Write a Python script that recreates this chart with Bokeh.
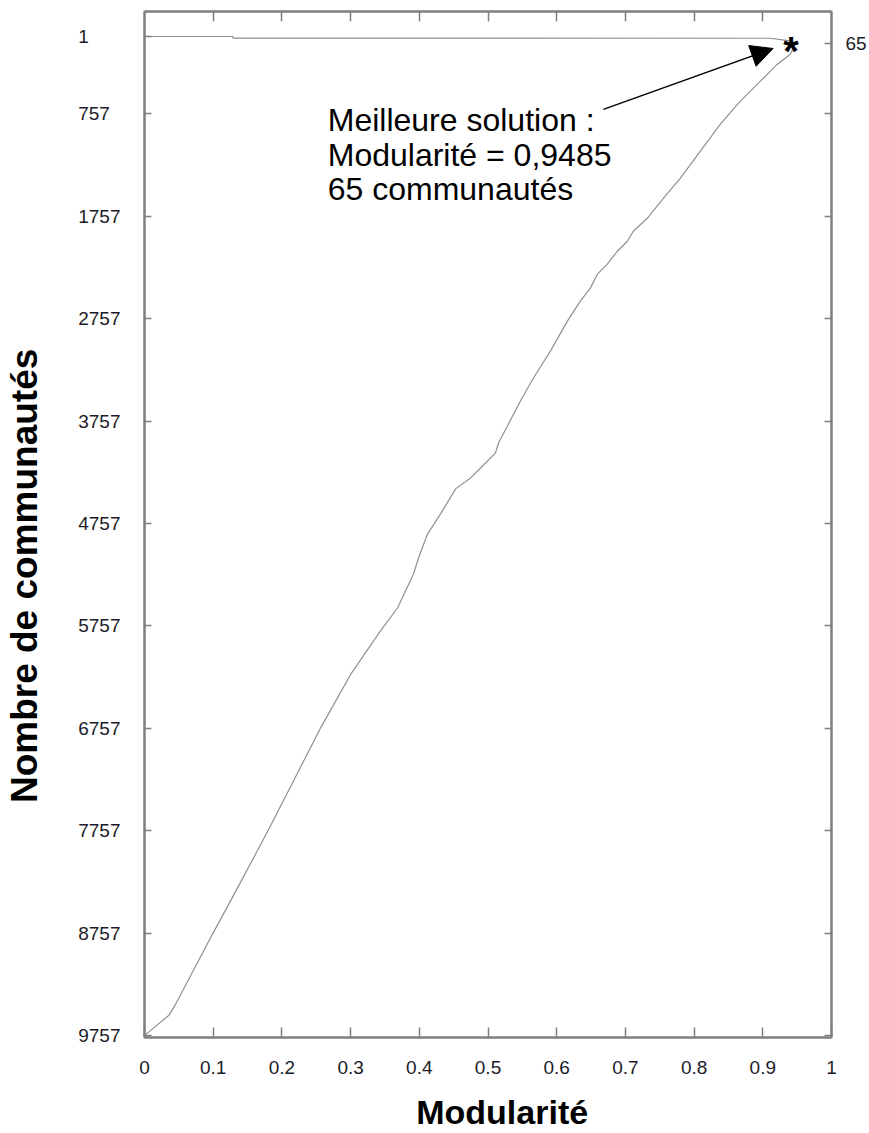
from bokeh.plotting import figure
from bokeh.models import (Range1d, LinearAxis, FixedTicker, NumeralTickFormatter,
                          Label, Arrow, NormalHead, ColumnDataSource, CustomLabelingPolicy)
from bokeh.core.properties import value
from bokeh.embed import file_html
from bokeh.resources import INLINE

# ---------------- data ----------------
modularite = [0.0, 0.0356, 0.0429, 0.0996, 0.1257, 0.181, 0.2566, 0.30, 0.3438,
              0.3685, 0.3917, 0.3990, 0.4121, 0.4310, 0.4528, 0.4746, 0.4891,
              0.5109, 0.5153, 0.5298, 0.5472, 0.5661, 0.5908, 0.6155, 0.6344,
              0.6490, 0.6592, 0.6737, 0.6882, 0.7028, 0.7115, 0.7318, 0.7551,
              0.7798, 0.8089, 0.8379, 0.8670, 0.8961, 0.9208, 0.9397,
              0.9485, 0.9397, 0.9106, 0.52, 0.1286, 0.1286, 0.0]
communautes = [9757, 9557, 9479, 8758, 8436, 7740, 6749, 6230, 5803,
               5579, 5247, 5091, 4857, 4662, 4418, 4311, 4214,
               4067, 3970, 3784, 3560, 3336, 3073, 2780, 2585,
               2458, 2322, 2224, 2098, 2000, 1903, 1776, 1581,
               1386, 1122, 859, 635, 440, 274, 177,
               65, 43, 18, 17, 16, 1, 1]

best_modularite = 0.9485
best_communautes = 65

x_ticks = [0, 0.1, 0.2, 0.3, 0.4, 0.5, 0.6, 0.7, 0.8, 0.9, 1]
y_ticks = [1, 757, 1757, 2757, 3757, 4757, 5757, 6757, 7757, 8757, 9757]
y_tick_labels = ["1", "757", "1757", "2757", "3757", "4757", "5757", "6757",
                 "7757", "8757", "9757"]
right_ticks = [65] + y_ticks[1:]
right_tick_labels = ["65"] + ["-"] * (len(y_ticks) - 1)

x_title = "Modularité"
y_title = "Nombre de communautés"
annotation_text = "Meilleure solution :\nModularité = 0,9485\n65 communautés"
annot_pos = (0.2667, 644)
arrow_tail = (0.668, 713)
arrow_tip = (0.915, 118)

FONT = "Liberation Sans"
AX = "#7f7f7f"
TXT = "#1c1c28"
NBSP = "\u00a0"

# ---------------- figure ----------------
p = figure(width=869, height=1133,
           x_range=Range1d(0, 1), y_range=Range1d(9775, -243),
           output_backend="svg", toolbar_location=None,
           x_axis_location=None, y_axis_location=None,
           min_border_left=144, min_border_right=37,
           min_border_top=10, min_border_bottom=96)
p.grid.visible = False
p.outline_line_color = AX
p.outline_line_width = 2
p.background_fill_color = "white"
p.border_fill_color = "white"


def pad(s, width=4):
    return s + NBSP * 2 * (width - len(s))


hide_all = CustomLabelingPolicy(code="""
for (let i = 0; i < indices.size; i++) { indices.unset(i) }
return indices
""")
keep_first = CustomLabelingPolicy(code="""
for (let i = 1; i < indices.size; i++) { indices.unset(i) }
return indices
""")

left = LinearAxis(ticker=FixedTicker(ticks=y_ticks),
                  major_label_overrides={t: pad(l) for t, l in zip(y_ticks, y_tick_labels)},
                  major_tick_in=7, major_tick_out=0, minor_tick_line_color=None,
                  major_label_standoff=24,
                  major_label_text_font=FONT,
                  major_label_text_font_size="19px",
                  major_label_text_color=TXT,
                  axis_label=y_title + NBSP * 10,
                  axis_label_standoff=30,
                  axis_label_text_font=FONT,
                  axis_label_text_font_size="37px",
                  axis_label_text_font_style="bold",
                  axis_label_text_color="black",
                  axis_line_color=AX, axis_line_width=2,
                  major_tick_line_color=AX, major_tick_line_width=1.5)
p.add_layout(left, "left")

right = LinearAxis(ticker=FixedTicker(ticks=right_ticks),
                   major_label_overrides={t: l for t, l in zip(right_ticks, right_tick_labels)},
                   major_label_policy=keep_first,
                   major_tick_in=7, major_tick_out=0, minor_tick_line_color=None,
                   major_label_standoff=14,
                   major_label_text_font=FONT,
                   major_label_text_font_size="19px",
                   major_label_text_color=TXT,
                   axis_line_color=AX, axis_line_width=2,
                   major_tick_line_color=AX, major_tick_line_width=1.5)
p.add_layout(right, "right")

below = LinearAxis(ticker=FixedTicker(ticks=x_ticks),
                   formatter=NumeralTickFormatter(format="0.[0]"),
                   major_tick_in=10, major_tick_out=0, minor_tick_line_color=None,
                   major_label_standoff=23,
                   major_label_text_font=FONT,
                   major_label_text_font_size="19px",
                   major_label_text_color=TXT,
                   axis_label=NBSP * 3 + x_title,
                   axis_label_standoff=16,
                   axis_label_text_font=FONT,
                   axis_label_text_font_size="34px",
                   axis_label_text_font_style="bold",
                   axis_label_text_color="black",
                   axis_line_color=AX, axis_line_width=2,
                   major_tick_line_color=AX, major_tick_line_width=1.5)
p.add_layout(below, "below")

above = LinearAxis(ticker=FixedTicker(ticks=x_ticks[1:-1]),
                   major_label_policy=hide_all,
                   major_tick_in=10, major_tick_out=0, minor_tick_line_color=None,
                   major_label_standoff=0,
                   axis_line_color=AX, axis_line_width=2,
                   major_tick_line_color=AX, major_tick_line_width=1.5)
p.add_layout(above, "above")

# ---------------- marks ----------------
src = ColumnDataSource(dict(x=modularite, y=communautes))
p.line("x", "y", source=src, line_color="#909090", line_width=1.2)

star = ColumnDataSource(dict(x=[best_modularite], y=[best_communautes], t=["*"]))
p.text("x", "y", text="t", source=star, text_font=value(FONT), text_font_size="40px",
       text_font_style="bold", text_color="black", text_align="center",
       text_baseline="alphabetic", x_offset=-5, y_offset=8)

p.add_layout(Arrow(end=NormalHead(size=22, fill_color="black", line_color="black"),
                   x_start=arrow_tail[0], y_start=arrow_tail[1],
                   x_end=arrow_tip[0], y_end=arrow_tip[1],
                   line_color="black", line_width=1.5))

p.add_layout(Label(x=annot_pos[0], y=annot_pos[1], text=annotation_text,
                   text_font=FONT, text_font_size="32px", text_color="black",
                   text_align="left", text_baseline="top", text_line_height=0.95))

open("out.html", "w").write(file_html(p, INLINE))
